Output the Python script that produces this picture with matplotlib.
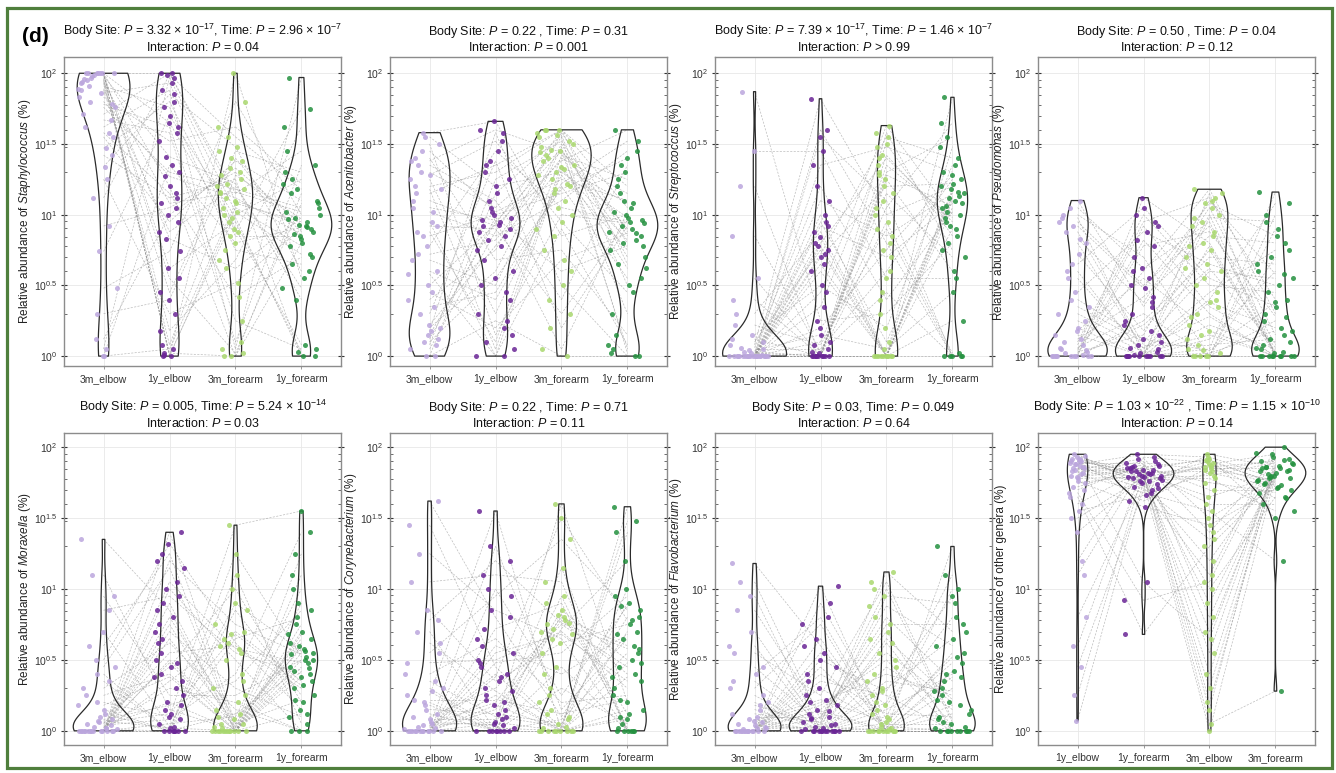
import numpy as np
import matplotlib
matplotlib.use("Agg")
import matplotlib.pyplot as plt
from matplotlib.collections import LineCollection
from matplotlib.patches import Rectangle

plt.rcParams['font.family'] = ['Liberation Sans', 'DejaVu Sans']
plt.rcParams['mathtext.fontset'] = 'custom'
plt.rcParams['mathtext.rm'] = 'Liberation Sans'
plt.rcParams['mathtext.it'] = 'Liberation Sans:italic'
plt.rcParams['mathtext.bf'] = 'Liberation Sans:bold'

# ---------------- data: log10 of relative abundance (%) ----------------
groups_main = ["3m_elbow", "1y_elbow", "3m_forearm", "1y_forearm"]
groups_other = ["1y_elbow", "1y_forearm", "3m_elbow", "3m_forearm"]
ytick_vals = [0, 0.5, 1, 1.5, 2]
ytick_labels = [r"$10^{0}$", r"$10^{0.5}$", r"$10^{1}$", r"$10^{1.5}$", r"$10^{2}$"]

staph_3m_elbow = [2.00, 1.95, 1.42, 2.00, 1.88, 0.05, 1.97, 1.76, 2.00, 1.62, 0.92, 1.99, 1.83, 0.00, 1.91, 1.55, 2.00, 1.71, 1.25, 1.98,
                  0.48, 1.86, 2.00, 1.67, 0.12, 1.93, 1.34, 1.80, 2.00, 0.74, 1.96, 1.58, 1.12, 1.89, 0.00, 2.00, 1.78, 0.30, 1.94, 1.47]
staph_1y_elbow = [2.00, 0.02, 1.12, 1.65, 0.45, 1.97, 0.83, 1.30, 0.00, 1.88, 1.05, 0.62, 1.52, 0.05, 1.76, 0.95, 1.20, 2.00, 0.30, 1.41,
                  0.74, 1.93, 0.00, 1.58, 1.00, 0.18, 1.85, 1.27, 0.55, 1.70, 0.08, 1.15, 1.99, 0.88, 1.35, 0.01, 1.62, 0.40, 1.08, 1.80]
staph_3m_forearm = [1.10, 0.00, 1.25, 0.85, 1.45, 1.02, 0.62, 1.18, 2.00, 0.05, 1.30, 0.95, 1.62, 1.08, 0.75, 1.38, 0.00, 1.15, 0.52, 1.22,
                    1.80, 0.90, 1.05, 0.10, 1.33, 0.68, 1.48, 1.12, 0.02, 0.98, 1.28, 0.42, 1.55, 1.20, 0.80, 1.00, 0.25, 1.40, 1.16, 0.88]
staph_1y_forearm = [0.92, 1.15, 0.00, 0.85, 1.30, 0.72, 0.98, 1.05, 0.55, 1.97, 0.88, 0.03, 1.22, 0.95, 0.65, 1.10, 0.80, 1.45, 0.90, 0.40,
                    1.00, 0.08, 0.78, 1.35, 0.93, 1.62, 0.60, 0.86, 1.08, 0.00, 0.97, 0.70, 1.18, 0.48, 0.91, 1.25, 0.05, 0.83, 1.02, 1.75]

acin_3m_elbow = [0.15, 1.20, 0.60, 1.58, 0.05, 0.95, 1.35, 0.20, 0.78, 1.10, 0.00, 1.45, 0.40, 1.28, 0.88, 0.12, 1.55, 0.68, 1.02, 0.30,
                 1.18, 0.50, 1.40, 0.08, 0.85, 1.25, 0.18, 0.72, 1.50, 0.00, 1.05, 0.35, 1.30, 0.58, 0.22, 1.15, 0.92, 0.10, 1.38, 0.45]
acin_1y_elbow = [0.95, 1.30, 0.40, 1.66, 0.88, 0.00, 1.10, 0.60, 1.45, 0.92, 0.25, 1.02, 0.75, 1.52, 0.10, 0.98, 1.20, 0.50, 0.85, 1.38,
                 0.05, 0.93, 0.68, 1.25, 1.00, 0.30, 1.58, 0.82, 0.15, 1.15, 0.96, 0.45, 1.05, 0.00, 0.78, 1.35, 0.90, 0.55, 1.60, 0.20]
acin_3m_forearm = [1.45, 1.60, 1.20, 0.85, 1.55, 1.32, 0.40, 1.50, 1.05, 1.38, 0.00, 1.25, 1.58, 0.95, 1.42, 0.60, 1.30, 1.48, 1.10, 0.20,
                   1.35, 1.60, 0.75, 1.52, 1.15, 1.28, 0.50, 1.40, 1.00, 1.56, 0.05, 1.22, 1.46, 0.90, 1.34, 1.60, 0.30, 1.18, 1.44, 0.68]
acin_1y_forearm = [0.90, 1.20, 0.55, 1.00, 0.02, 0.82, 1.35, 0.70, 0.95, 1.60, 0.00, 1.10, 0.88, 0.45, 1.25, 0.78, 0.98, 0.05, 1.45, 0.92,
                   0.62, 1.05, 0.15, 0.85, 1.30, 0.75, 0.00, 1.15, 0.94, 0.50, 1.02, 1.52, 0.80, 0.08, 1.08, 0.65, 0.96, 1.40, 0.30, 0.87]

strep_3m_elbow = [0.00, 0.00, 0.05, 0.00, 0.12, 0.00, 1.87, 0.00, 0.02, 0.30, 0.00, 0.00, 0.08, 0.00, 1.20, 0.00, 0.04, 0.00, 0.55, 0.00,
                  0.00, 0.15, 0.00, 0.01, 0.00, 0.85, 0.00, 0.06, 0.00, 0.00, 0.22, 0.00, 0.03, 0.00, 1.45, 0.00, 0.10, 0.00, 0.40, 0.00]
strep_1y_elbow = [0.00, 0.80, 0.05, 1.55, 0.00, 0.72, 0.25, 1.10, 0.00, 0.88, 0.45, 0.02, 1.82, 0.65, 0.00, 0.92, 0.15, 1.35, 0.00, 0.78,
                  0.10, 0.50, 0.00, 1.60, 0.84, 0.03, 0.35, 1.20, 0.00, 0.70, 0.08, 0.95, 0.00, 0.60, 1.45, 0.00, 0.75, 0.20, 0.00, 1.00]
strep_3m_forearm = [0.00, 1.40, 0.60, 1.10, 0.00, 1.55, 0.30, 0.85, 1.25, 0.00, 1.63, 0.45, 1.00, 0.00, 1.30, 0.70, 0.05, 1.48, 0.95, 0.00,
                    1.15, 0.20, 1.35, 0.80, 0.00, 1.05, 1.50, 0.40, 0.00, 1.20, 0.90, 0.10, 1.42, 0.00, 0.55, 1.28, 0.00, 0.75, 1.58, 0.00]
strep_1y_forearm = [1.10, 0.95, 1.25, 0.00, 1.05, 1.40, 0.80, 1.15, 0.60, 1.83, 1.00, 0.00, 1.20, 0.90, 1.55, 1.08, 0.45, 1.30, 0.02, 1.12,
                    0.70, 1.35, 0.98, 0.00, 1.18, 1.65, 0.85, 1.02, 0.25, 1.22, 0.00, 1.13, 0.92, 1.48, 0.55, 1.06, 0.00, 1.28, 0.75, 1.16]

pseu_3m_elbow = [0.00, 0.05, 0.80, 0.00, 0.15, 1.10, 0.02, 0.35, 0.00, 0.95, 0.08, 0.55, 0.00, 0.20, 1.00, 0.03, 0.65, 0.00, 0.12, 0.88,
                 0.00, 0.45, 0.06, 0.25, 1.05, 0.00, 0.72, 0.10, 0.00, 0.92, 0.30, 0.01, 0.60, 0.00, 0.18, 0.98, 0.04, 0.40, 0.00, 0.83]
pseu_1y_elbow = [0.00, 0.60, 0.05, 1.12, 0.00, 0.35, 0.82, 0.10, 0.00, 0.50, 0.95, 0.02, 0.25, 0.00, 0.70, 0.15, 1.05, 0.00, 0.42, 0.08,
                 0.00, 0.88, 0.30, 0.03, 0.62, 0.00, 0.18, 1.00, 0.00, 0.48, 0.06, 0.78, 0.00, 0.22, 0.55, 0.01, 0.92, 0.12, 0.00, 0.38]
pseu_3m_forearm = [0.00, 1.18, 0.45, 0.80, 0.05, 1.05, 0.30, 0.60, 0.00, 0.92, 1.12, 0.15, 0.70, 0.38, 0.00, 1.00, 0.55, 0.22, 0.85, 0.08,
                   1.15, 0.65, 0.00, 0.40, 0.95, 0.12, 0.75, 0.50, 0.02, 1.08, 0.28, 0.88, 0.00, 0.62, 0.18, 0.98, 0.35, 0.04, 0.78, 1.10]
pseu_1y_forearm = [0.00, 0.30, 0.75, 0.02, 1.16, 0.15, 0.00, 0.55, 0.90, 0.08, 0.40, 0.00, 0.65, 0.20, 1.00, 0.00, 0.35, 0.05, 0.80, 0.12,
                   0.00, 0.50, 0.25, 1.08, 0.00, 0.60, 0.03, 0.45, 0.18, 0.85, 0.00, 0.28, 0.70, 0.06, 0.00, 0.95, 0.10, 0.38, 0.00, 0.58]

mora_3m_elbow = [0.00, 0.05, 0.00, 0.20, 1.35, 0.02, 0.00, 0.45, 0.10, 0.00, 0.85, 0.03, 0.00, 0.15, 0.60, 0.00, 0.07, 0.30, 0.00, 1.10,
                 0.01, 0.00, 0.25, 0.04, 0.50, 0.00, 0.12, 0.00, 0.95, 0.06, 0.00, 0.35, 0.00, 0.18, 0.70, 0.00, 0.08, 0.40, 0.00, 0.02]
mora_1y_elbow = [0.00, 0.55, 1.40, 0.10, 0.85, 0.30, 0.00, 1.15, 0.45, 0.05, 0.95, 0.20, 0.70, 0.00, 1.25, 0.35, 0.02, 0.62, 1.05, 0.15,
                 0.00, 0.80, 0.40, 0.08, 1.32, 0.50, 0.00, 0.90, 0.25, 0.12, 0.75, 0.00, 1.00, 0.38, 0.03, 0.65, 0.18, 0.00, 1.20, 0.48]
mora_3m_forearm = [0.00, 0.60, 0.05, 1.45, 0.00, 0.20, 0.65, 0.00, 1.00, 0.10, 0.55, 0.00, 0.30, 1.25, 0.02, 0.70, 0.00, 0.15, 0.58, 0.00,
                   0.85, 0.08, 0.00, 0.40, 0.62, 0.03, 1.10, 0.00, 0.25, 0.68, 0.00, 0.12, 0.50, 0.00, 0.90, 0.05, 0.35, 0.00, 0.75, 0.00]
mora_1y_forearm = [0.50, 0.30, 0.65, 1.55, 0.45, 0.00, 0.80, 0.55, 0.20, 1.00, 0.40, 0.60, 0.10, 0.52, 1.25, 0.35, 0.70, 0.00, 0.48, 0.90,
                   0.25, 0.58, 0.42, 1.40, 0.15, 0.62, 0.05, 0.75, 0.50, 0.32, 1.10, 0.44, 0.00, 0.68, 0.56, 0.22, 0.85, 0.38, 0.54, 0.12]

cory_3m_elbow = [0.00, 0.10, 1.62, 0.00, 0.25, 0.05, 0.70, 0.00, 0.15, 1.05, 0.02, 0.00, 0.40, 0.08, 0.00, 0.55, 0.20, 1.45, 0.00, 0.03,
                 0.30, 0.85, 0.00, 0.12, 0.00, 0.48, 0.06, 0.00, 0.62, 0.18, 0.00, 0.35, 1.25, 0.01, 0.00, 0.22, 0.78, 0.04, 0.00, 0.28]
cory_1y_elbow = [0.00, 0.30, 0.80, 0.05, 1.55, 0.20, 0.00, 0.55, 0.12, 1.10, 0.40, 0.00, 0.65, 0.08, 0.25, 0.95, 0.00, 0.45, 0.15, 1.30,
                 0.02, 0.35, 0.72, 0.00, 0.18, 0.50, 0.04, 1.00, 0.28, 0.00, 0.60, 0.10, 0.85, 0.00, 0.38, 0.22, 1.20, 0.06, 0.48, 0.00]
cory_3m_forearm = [0.00, 0.75, 0.10, 1.60, 0.00, 0.80, 0.30, 0.68, 0.05, 1.05, 0.00, 0.72, 0.20, 0.85, 0.00, 1.35, 0.45, 0.02, 0.78, 0.15,
                   0.00, 0.62, 0.90, 0.08, 0.00, 0.70, 1.15, 0.25, 0.00, 0.82, 0.40, 0.03, 0.65, 0.00, 1.50, 0.12, 0.76, 0.00, 0.55, 0.95]
cory_1y_forearm = [0.00, 0.45, 0.80, 0.20, 1.58, 0.60, 0.05, 0.35, 0.90, 0.00, 0.70, 1.20, 0.25, 0.50, 0.10, 0.85, 0.00, 1.40, 0.40, 0.65,
                   0.15, 0.75, 0.02, 0.55, 1.00, 0.30, 0.00, 0.88, 0.48, 0.12, 0.68, 1.48, 0.00, 0.38, 0.78, 0.22, 0.58, 0.08, 0.95, 0.00]

flav_3m_elbow = [0.00, 0.05, 0.45, 0.00, 1.18, 0.10, 0.00, 0.02, 0.70, 0.00, 0.15, 0.00, 0.30, 0.04, 1.05, 0.00, 0.08, 0.55, 0.00, 0.01,
                 0.20, 0.00, 0.85, 0.06, 0.00, 0.12, 0.40, 0.00, 0.03, 0.95, 0.00, 0.18, 0.00, 0.60, 0.07, 0.00, 0.25, 0.00, 0.35, 0.02]
flav_1y_elbow = [0.00, 0.20, 0.05, 0.00, 0.60, 0.10, 0.00, 1.02, 0.02, 0.35, 0.00, 0.15, 0.75, 0.00, 0.08, 0.45, 0.00, 0.25, 0.90, 0.03,
                 0.00, 0.55, 0.12, 0.00, 0.30, 0.06, 0.80, 0.00, 0.18, 0.00, 0.40, 0.04, 0.65, 0.00, 0.22, 0.09, 0.00, 0.50, 0.01, 0.14]
flav_3m_forearm = [0.00, 0.40, 1.12, 0.05, 0.00, 0.70, 0.15, 0.00, 0.95, 0.25, 0.02, 0.55, 0.00, 0.10, 0.80, 0.00, 0.30, 1.05, 0.08, 0.00,
                   0.45, 0.18, 0.00, 0.62, 0.03, 0.88, 0.00, 0.20, 0.50, 0.00, 0.12, 0.75, 0.00, 0.35, 0.06, 1.00, 0.00, 0.28, 0.65, 0.01]
flav_1y_forearm = [0.00, 0.25, 0.70, 0.05, 1.30, 0.00, 0.40, 0.12, 0.90, 0.00, 0.55, 0.20, 0.02, 1.00, 0.35, 0.00, 0.65, 0.08, 0.48, 0.00,
                   0.15, 0.80, 0.30, 0.03, 0.00, 0.60, 0.18, 1.10, 0.00, 0.42, 0.10, 0.75, 0.00, 0.28, 0.52, 0.06, 0.00, 0.95, 0.22, 0.38]

other_1y_elbow = [1.90, 1.85, 1.70, 1.93, 1.80, 0.45, 1.88, 1.75, 1.55, 1.92, 1.82, 0.07, 1.65, 1.87, 1.95, 1.10, 1.78, 1.90, 1.60, 1.84,
                  0.80, 1.91, 1.72, 1.86, 1.40, 1.89, 1.81, 0.25, 1.94, 1.76, 1.83, 1.20, 1.88, 1.68, 1.92, 0.60, 1.85, 1.79, 1.50, 1.90]
other_1y_forearm = [1.82, 1.78, 1.88, 1.75, 1.85, 1.70, 1.95, 1.80, 1.66, 1.83, 1.90, 1.76, 0.68, 1.81, 1.72, 1.87, 1.79, 1.62, 1.84, 1.92,
                    1.77, 1.05, 1.86, 1.74, 1.80, 1.89, 1.68, 1.83, 1.78, 1.58, 1.85, 1.93, 1.81, 0.92, 1.76, 1.87, 1.71, 1.84, 1.79, 1.82]
other_3m_elbow = [1.85, 1.90, 1.40, 0.00, 1.75, 1.10, 1.93, 0.55, 1.82, 1.60, 0.80, 1.88, 1.30, 0.05, 1.95, 1.70, 0.30, 1.86, 1.00, 1.50,
                  1.78, 0.65, 1.91, 1.20, 0.15, 1.84, 1.55, 0.90, 1.80, 1.45, 0.40, 1.89, 1.65, 1.05, 1.87, 0.20, 1.35, 1.92, 0.70, 1.83]
other_3m_forearm = [1.85, 1.75, 1.92, 1.80, 1.68, 2.00, 1.78, 1.88, 1.72, 1.60, 1.83, 1.95, 1.76, 0.28, 1.86, 1.70, 1.82, 1.90, 1.65, 1.79,
                    1.55, 1.87, 1.74, 1.84, 1.93, 1.77, 1.20, 1.81, 1.89, 1.71, 1.85, 1.64, 1.80, 1.96, 1.73, 1.86, 1.78, 1.50, 1.83, 1.91]

genus_labels = ["Staphylococcus", "Acenitobacter", "Streptococcus", "Pseudomonas",
                "Moraxella", "Corynebacterium", "Flavobacterium", "other genera"]

titles = [
    r"Body Site: $\mathit{P}$ = 3.32 × 10$^{-17}$, Time: $\mathit{P}$ = 2.96 × 10$^{-7}$" + "\n" + r"Interaction: $\mathit{P}$ = 0.04",
    r"Body Site: $\mathit{P}$ = 0.22 , Time: $\mathit{P}$ = 0.31" + "\n" + r"Interaction: $\mathit{P}$ = 0.001",
    r"Body Site: $\mathit{P}$ = 7.39 × 10$^{-17}$, Time: $\mathit{P}$ = 1.46 × 10$^{-7}$" + "\n" + r"Interaction: $\mathit{P}$ > 0.99",
    r"Body Site: $\mathit{P}$ = 0.50 , Time: $\mathit{P}$ = 0.04" + "\n" + r"Interaction: $\mathit{P}$ = 0.12",
    r"Body Site: $\mathit{P}$ = 0.005, Time: $\mathit{P}$ = 5.24 × 10$^{-14}$" + "\n" + r"Interaction: $\mathit{P}$ = 0.03",
    r"Body Site: $\mathit{P}$ = 0.22 , Time: $\mathit{P}$ = 0.71" + "\n" + r"Interaction: $\mathit{P}$ = 0.11",
    r"Body Site: $\mathit{P}$ = 0.03, Time: $\mathit{P}$ = 0.049" + "\n" + r"Interaction: $\mathit{P}$ = 0.64",
    r"Body Site: $\mathit{P}$ = 1.03 × 10$^{-22}$ , Time: $\mathit{P}$ = 1.15 × 10$^{-10}$" + "\n" + r"Interaction: $\mathit{P}$ = 0.14",
]

panel_data = [
    [staph_3m_elbow, staph_1y_elbow, staph_3m_forearm, staph_1y_forearm],
    [acin_3m_elbow, acin_1y_elbow, acin_3m_forearm, acin_1y_forearm],
    [strep_3m_elbow, strep_1y_elbow, strep_3m_forearm, strep_1y_forearm],
    [pseu_3m_elbow, pseu_1y_elbow, pseu_3m_forearm, pseu_1y_forearm],
    [mora_3m_elbow, mora_1y_elbow, mora_3m_forearm, mora_1y_forearm],
    [cory_3m_elbow, cory_1y_elbow, cory_3m_forearm, cory_1y_forearm],
    [flav_3m_elbow, flav_1y_elbow, flav_3m_forearm, flav_1y_forearm],
    [other_1y_elbow, other_1y_forearm, other_3m_elbow, other_3m_forearm],
]
panel_groups = [groups_main] * 7 + [groups_other]

# ---------------- styling ----------------
colors = ["#bba6dd", "#6a2596", "#a9d86e", "#24913f"]
violin_widths = [
    [0.80, 0.40, 0.52, 0.92],
    [0.62, 0.74, 0.90, 0.92],
    [0.97, 0.36, 0.34, 0.46],
    [0.90, 0.85, 0.69, 0.72],
    [0.92, 0.57, 0.66, 0.49],
    [0.82, 0.74, 0.65, 0.57],
    [0.80, 0.95, 0.54, 0.69],
    [0.31, 0.92, 0.20, 0.92],
]

W, H = 1336, 773
fig = plt.figure(figsize=(W / 100, H / 100), dpi=100)

lefts = [64, 390, 715, 1038]
axw = 277
rows = [(57, 366, (-0.07, 2.115)), (433, 745, (-0.10, 2.10))]

minor_ticks = [np.log10(k) + n for n in (0, 1) for k in range(2, 10)]
phi = 0.6180339887

for p in range(8):
    r, c = divmod(p, 4)
    top, bot, ylim = rows[r]
    ax = fig.add_axes([lefts[c] / W, 1 - bot / H, axw / W, (bot - top) / H])
    data = panel_data[p]
    pos = [1, 2, 3, 4]

    # paired dashed lines between consecutive groups
    segs = []
    for g in range(3):
        for a, b in zip(data[g], data[g + 1]):
            segs.append([(pos[g], a), (pos[g + 1], b)])
    lc = LineCollection(segs, colors="#909090", linewidths=0.5, linestyles=(0, (3, 2)),
                        alpha=0.6, zorder=1)
    ax.add_collection(lc)

    # violins
    vp = ax.violinplot([np.array(d) for d in data], positions=pos, widths=violin_widths[p],
                       showextrema=False, bw_method=0.3)
    for body in vp['bodies']:
        body.set_facecolor('none')
        body.set_edgecolor('#2a2a2a')
        body.set_linewidth(0.9)
        body.set_alpha(1)
        body.set_zorder(2)

    # jittered points
    for g in range(4):
        vals = np.array(data[g])
        n = len(vals)
        jit = np.array([((i + 1) * phi) % 1.0 for i in range(n)]) * 2 - 1
        spread = min(0.3, 0.42 * violin_widths[p][g])
        shift = -0.3 * spread if panel_groups[p][g].startswith("3m") and p < 7 else 0.0
        ax.scatter(pos[g] + shift + jit * spread, vals, s=13, color=colors[g], alpha=0.85,
                   linewidths=0, zorder=3)

    ax.set_xlim(0.4, 4.6)
    ax.set_ylim(*ylim)
    ax.set_xticks(pos)
    ax.set_xticklabels(panel_groups[p], fontsize=7.5, color='#333333')
    ax.set_yticks(ytick_vals)
    ax.set_yticklabels(ytick_labels, fontsize=7.5, color='#333333')
    ax.set_yticks(minor_ticks, minor=True)
    ax.tick_params(axis='y', which='major', direction='inout', length=5, width=0.8,
                   left=True, right=True, color='#333333', pad=2)
    ax.tick_params(axis='y', which='minor', direction='in', length=2.5, width=0.6,
                   left=True, right=True, color='#555555')
    ax.tick_params(axis='x', which='major', direction='out', length=2.5, width=0.6,
                   color='#888888', pad=3)
    ax.grid(True, which='major', color='#e8e8e8', linewidth=0.6)
    ax.set_axisbelow(True)
    for s in ax.spines.values():
        s.set_color('#8c8c8c')
        s.set_linewidth(1.0)

    g = genus_labels[p]
    if g == "other genera":
        ylab = "Relative abundance of other genera (%)"
    else:
        ylab = "Relative abundance of $\\mathit{" + g + "}$ (%)"
    ax.set_ylabel(ylab, fontsize=8.5, color='#222222', labelpad=1)
    ax.set_title(titles[p], fontsize=9, pad=4, linespacing=1.1, color='#111111')

fig.text(22 / W, 1 - 37 / H, "(d)", fontsize=15, fontweight='bold', ha='left', va='center')
fig.add_artist(Rectangle((6.5 / W, 1 - 768 / H), (1332 - 6.5) / W, (768 - 8) / H,
                         transform=fig.transFigure, fill=False, edgecolor='#4f7f3c',
                         linewidth=2.3))

fig.savefig("out.png", dpi=100)
